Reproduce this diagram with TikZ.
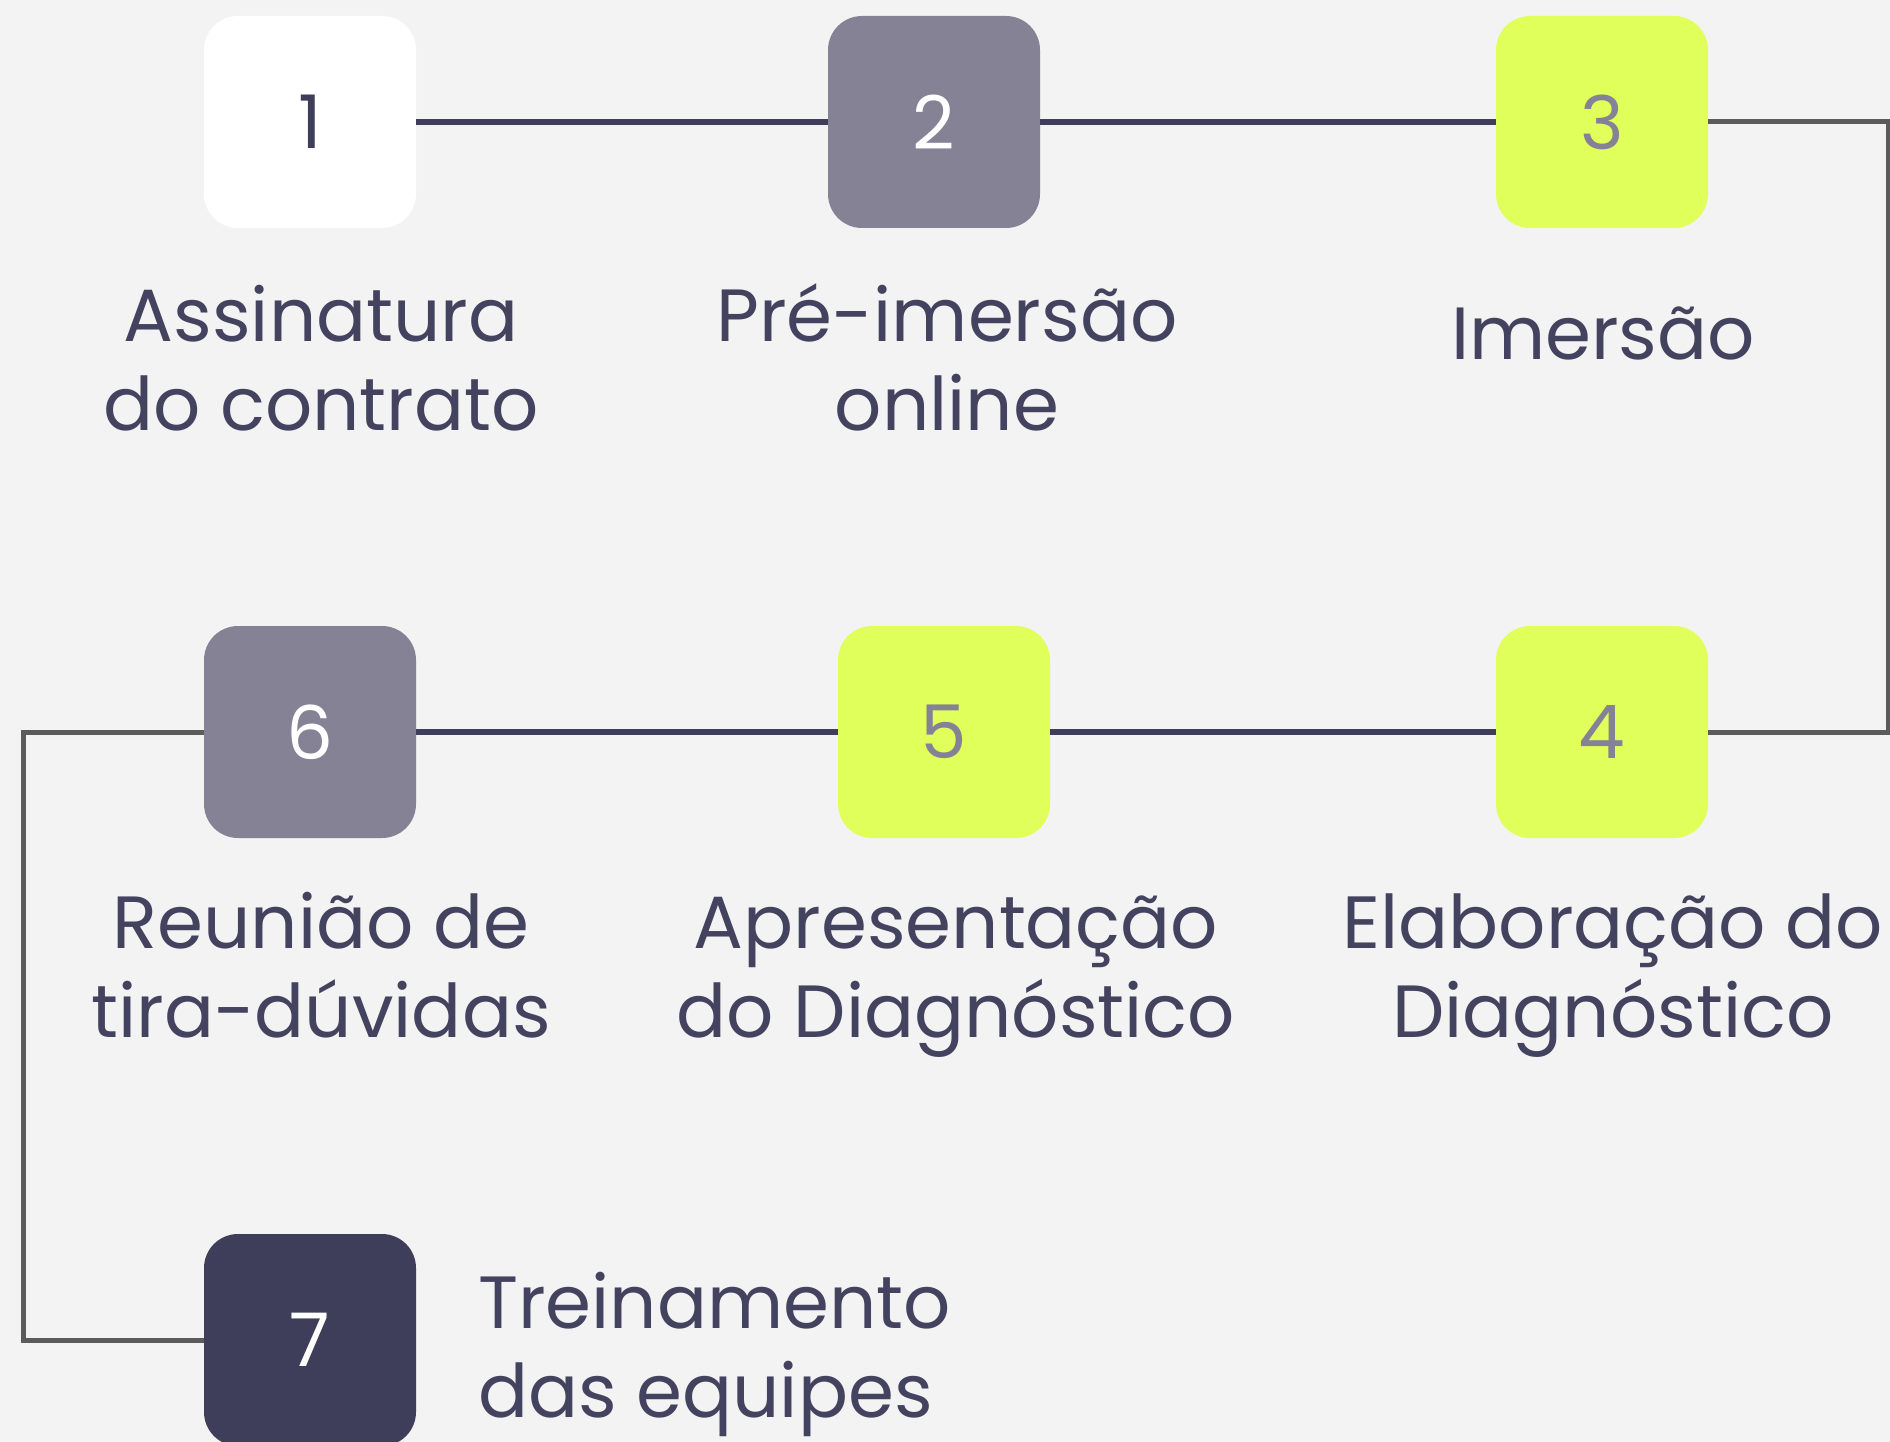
\documentclass[tikz,border=0pt]{standalone}
\usepackage{fontspec}
\setmainfont{Poppins}
\definecolor{bg}{HTML}{F3F3F3}
\definecolor{navy}{HTML}{3F3E5A}
\definecolor{txt}{HTML}{44435F}
\definecolor{mauve}{HTML}{858296}
\definecolor{lime}{HTML}{E0FF5A}
\definecolor{conn}{HTML}{5B5B5B}
\begin{document}
\begin{tikzpicture}[x=1pt,y=-1pt,
  stepbox/.style={rectangle, rounded corners=34pt, minimum width=212pt, minimum height=212pt, inner sep=0pt, font=\fontsize{74}{80}\selectfont},
  lbl/.style={align=center, text=txt, inner sep=0pt, font=\fontsize{74}{89}\selectfont, anchor=base},
  navyline/.style={draw=navy, line width=6pt},
  grayline/.style={draw=conn, line width=5pt}]
\fill[bg] (0,0) rectangle (1890,1442);
\useasboundingbox (0,0) rectangle (1890,1442);
\node[stepbox, fill=white, text=navy] (b1) at (310,122) {1};
\node[stepbox, fill=mauve, text=white] (b2) at (934,122) {2};
\node[stepbox, fill=lime, text=mauve] (b3) at (1602,122) {3};
\node[stepbox, fill=lime, text=mauve] (b4) at (1602,732) {4};
\node[stepbox, fill=lime, text=mauve] (b5) at (944,732) {5};
\node[stepbox, fill=mauve, text=white] (b6) at (310,732) {6};
\node[stepbox, fill=navy, text=white] (b7) at (310,1340) {7};
\coordinate (r1) at (1888,122);
\coordinate (r2) at (1888,732);
\coordinate (l1) at (23,732);
\coordinate (l2) at (23,1340);
\draw[navyline] (b1.east) -- (b2.west);
\draw[navyline] (b2.east) -- (b3.west);
\draw[grayline] (b3.east) -- (r1) -- (r2) -- (b4.east);
\draw[navyline] (b4.west) -- (b5.east);
\draw[navyline] (b5.west) -- (b6.east);
\draw[grayline] (b6.west) -- (l1) -- (l2) -- (b7.west);
\node[lbl] (t1) at (321,430) {Assinatura\\do contrato};
\node[lbl] (t2) at (947,430) {Pré-imersão\\online};
\node[lbl] (t3) at (1603,359) {Imersão};
\node[lbl] (t4) at (1613,1037) {Elaboração do\\Diagnóstico};
\node[lbl] (t5) at (956,1037) {Apresentação\\do Diagnóstico};
\node[lbl] (t6) at (321,1037) {Reunião de\\tira-dúvidas};
\node[lbl, align=left, anchor=base west] (t7) at (478,1417) {Treinamento\\das equipes};
\end{tikzpicture}
\end{document}
